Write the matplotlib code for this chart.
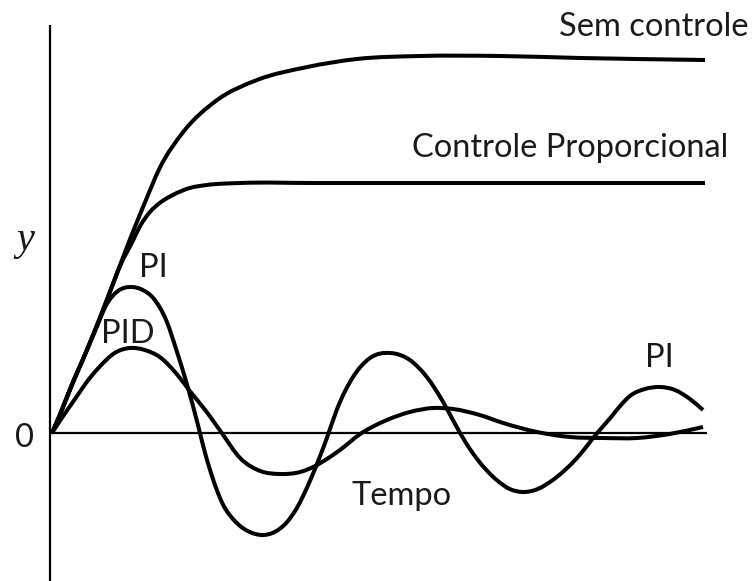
import matplotlib
matplotlib.use("Agg")
import matplotlib.pyplot as plt
import numpy as np
from matplotlib.path import Path
from matplotlib.patches import PathPatch

# ---- data (time units, response units) ----
t_sem = [0, 0.12, 0.32, 0.47, 0.66, 0.84, 1.19, 1.42, 1.65, 2.01, 2.53, 3.14, 3.91, 4.67,
         5.64, 6.86, 8.09, 10.0]
y_sem = [0, 0.18, 0.51, 0.73, 1.03, 1.33, 1.93, 2.30, 2.65, 3.01, 3.33, 3.53, 3.66, 3.74,
         3.77, 3.77, 3.75, 3.73]

t_prop = [0, 0.12, 0.32, 0.47, 0.66, 0.84, 1.07, 1.23, 1.35, 1.50, 1.65, 1.85, 2.11, 2.37,
          2.88, 4.0, 6.0, 8.0, 10.0]
y_prop = [0, 0.18, 0.51, 0.73, 1.03, 1.33, 1.71, 1.91, 2.07, 2.21, 2.30, 2.38, 2.45, 2.48,
          2.50, 2.50, 2.50, 2.50, 2.50]

t_pi = [0, 0.12, 0.32, 0.47, 0.66, 0.84, 1.01, 1.21, 1.39, 1.55,
        1.76, 1.91, 2.07, 2.22, 2.34, 2.47, 2.60, 2.83, 3.03, 3.23,
        3.41, 3.60, 3.75, 3.95, 4.10, 4.21, 4.36, 4.61, 4.87, 5.18,
        5.48, 5.74, 5.99, 6.14, 6.25, 6.40, 6.51, 6.81, 7.01, 7.21,
        7.44, 7.67, 8.04, 8.35, 8.55, 8.70, 8.85, 9.08, 9.31, 9.54,
        9.77, 9.97]
y_pi = [0, 0.18, 0.50, 0.73, 1.02, 1.29, 1.42, 1.46, 1.43, 1.35,
        1.11, 0.82, 0.48, 0.12, -0.19, -0.47, -0.69, -0.90, -0.99, -1.02,
        -0.99, -0.89, -0.75, -0.48, -0.24, -0.05, 0.23, 0.56, 0.75, 0.80,
        0.73, 0.56, 0.31, 0.13, 0.00, -0.16, -0.26, -0.47, -0.56, -0.59,
        -0.56, -0.47, -0.25, 0.00, 0.15, 0.27, 0.37, 0.44, 0.46, 0.43,
        0.34, 0.23]

t_pid = [0, 0.12, 0.32, 0.58, 0.74, 0.96, 1.19, 1.42, 1.65, 1.91, 2.11, 2.37, 2.60, 2.88,
         3.19, 3.49, 3.80, 4.00, 4.21, 4.41, 4.72, 5.13, 5.48, 5.84, 6.14, 6.55, 6.91,
         7.43, 7.93, 8.44, 8.96, 9.46, 9.97]
y_pid = [0, 0.12, 0.31, 0.55, 0.67, 0.80, 0.85, 0.83, 0.76, 0.59, 0.42, 0.21, 0.00, -0.25,
         -0.38, -0.41, -0.39, -0.34, -0.26, -0.17, -0.01, 0.13, 0.21, 0.25, 0.24, 0.18,
         0.10, 0.01, -0.04, -0.05, -0.05, -0.01, 0.06]

labels = ["Sem controle", "Controle Proporcional", "PI", "PID", "Tempo", "PI"]

# ---- figure ----
W, H = 752, 581
fig = plt.figure(figsize=(W / 100, H / 100), dpi=100)
ax = fig.add_axes([0, 0, 1, 1])
ax.set_xlim(-0.796, 10.72)
ax.set_ylim(-1.48, 4.33)
ax.axis("off")


def smooth_path(xs, ys):
    """Cubic Bezier path through the given points (Hermite tangents along x)."""
    x = np.asarray(xs, float)
    y = np.asarray(ys, float)
    n = len(x)
    h = np.diff(x)
    d = np.diff(y) / h
    m = np.empty(n)
    m[0], m[-1] = d[0], d[-1]
    for i in range(1, n - 1):
        m[i] = (d[i - 1] * h[i] + d[i] * h[i - 1]) / (h[i - 1] + h[i])
    verts = [(x[0], y[0])]
    codes = [Path.MOVETO]
    for i in range(n - 1):
        verts += [(x[i] + h[i] / 3, y[i] + m[i] * h[i] / 3),
                  (x[i + 1] - h[i] / 3, y[i + 1] - m[i + 1] * h[i] / 3),
                  (x[i + 1], y[i + 1])]
        codes += [Path.CURVE4] * 3
    return Path(verts, codes)


for xs, ys in [(t_sem, y_sem), (t_prop, y_prop), (t_pi, y_pi), (t_pid, y_pid)]:
    ax.add_patch(PathPatch(smooth_path(xs, ys), facecolor="none", edgecolor="black",
                           lw=2.9, capstyle="butt", joinstyle="round"))

# axes lines
ax.plot([-0.03, -0.03], [-1.48, 4.08], color="black", lw=1.6, solid_capstyle="butt")
ax.plot([-0.03, 10.03], [0, 0], color="black", lw=1.6, solid_capstyle="butt")

font = ["Lato", "DejaVu Sans"]
fs = 23.5
tc = "#1a1a1a"


def ptext(x, y, s, **kw):
    fig.text(x / W, 1 - y / H, s, ha="left", va="baseline", **kw)


ptext(559, 36, labels[0], family=font, fontsize=fs, color=tc)
ptext(412, 157, labels[1], family=font, fontsize=fs, color=tc)
ptext(139, 277, labels[2], family=font, fontsize=fs, color=tc)
ptext(101, 343, labels[3], family=font, fontsize=fs, color=tc)
ptext(351, 505, labels[4], family=font, fontsize=fs, color=tc)
ptext(645, 367, labels[5], family=font, fontsize=fs, color=tc)
ptext(15, 447, "0", family=font, fontsize=fs, color=tc)
ptext(16, 250, "y", family=["Liberation Serif", "DejaVu Serif"], style="italic",
      fontsize=29, color=tc)

fig.savefig("out.png", dpi=100)
